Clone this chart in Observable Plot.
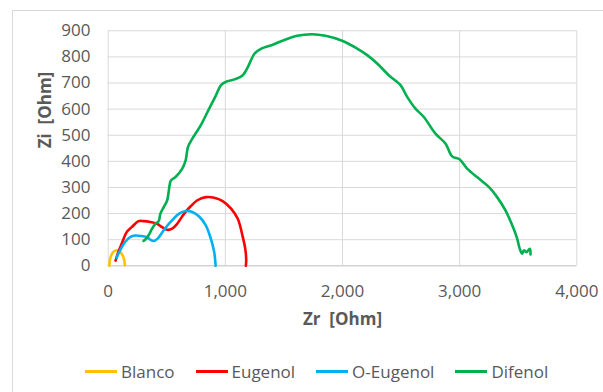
<!DOCTYPE html>
<html>
<head>
<meta charset="utf-8">
<script src="https://cdn.jsdelivr.net/npm/d3@7"></script>
<script src="https://cdn.jsdelivr.net/npm/@observablehq/plot@0.6"></script>
<style>
  html, body { margin: 0; padding: 0; background: #fff; }
  #chart { position: relative; width: 603px; height: 392px; overflow: hidden; background: #fff; font-family: "Open Sans", sans-serif; }
  #frame { position: absolute; left: 12px; top: 10px; width: 640px; height: 420px; border-top: 1px solid #d9d9d9; border-left: 1px solid #d9d9d9; }
  #plot { position: absolute; left: 0; top: 0; }
  #plot svg text { white-space: pre; }
  #legend { position: absolute; left: 85px; top: 360px; display: flex; align-items: center; gap: 21px; font-size: 17px; color: #595959; }
  .item { display: flex; align-items: center; gap: 4px; }
  .swatch { width: 32px; height: 3px; }
</style>
</head>
<body>
<div id="chart">
  <div id="frame"></div>
  <div id="plot"></div>
  <div id="legend"></div>
</div>
<script>
// Nyquist curves: real impedance Zr vs imaginary impedance Zi, in Ohm
const seriesNames = ["Blanco", "Eugenol", "O-Eugenol", "Difenol"];
const seriesColors = ["#FFC000", "#FF0000", "#00B0F0", "#00B050"];

const blancoZr = [10, 14, 24, 40, 60, 80, 100, 118, 132, 140, 142];
const blancoZi = [0, 20, 38, 51, 58, 59, 54, 44, 30, 14, 2];

const eugenolZr = [63, 86, 115, 158, 201, 259, 302, 359, 417, 460, 503, 546, 589, 647, 704, 761, 833, 905, 977, 1049, 1106, 1149, 1170, 1178, 1175];
const eugenolZi = [20, 52, 84, 129, 148, 171, 171, 168, 161, 148, 138, 142, 161, 199, 228, 251, 263, 261, 248, 219, 180, 110, 65, 20, 0];

const oEugenolZr = [72, 101, 144, 187, 230, 287, 330, 359, 388, 422, 474, 532, 603, 661, 718, 776, 833, 876, 905, 917];
const oEugenolZi = [31, 59, 91, 110, 116, 114, 110, 100, 95, 104, 136, 168, 199, 210, 206, 189, 155, 104, 52, 0];

const difenolZr = [302, 330, 353, 374, 402, 431, 445, 474, 503, 515, 525, 535, 575, 632, 661, 681, 718, 790, 862, 920, 963, 1006, 1078, 1149, 1193, 1250, 1307, 1394, 1499, 1613, 1741, 1855, 1997, 2125, 2211, 2296, 2395, 2495, 2552, 2623, 2694, 2794, 2879, 2936, 3001, 3064, 3164, 3249, 3320, 3391, 3449, 3491, 3513, 3534, 3548, 3570, 3599, 3605];
const difenolZi = [95, 107, 123, 142, 161, 171, 199, 225, 250, 280, 310, 327, 340, 372, 404, 455, 487, 538, 602, 653, 692, 705, 714, 730, 762, 813, 832, 845, 864, 881, 887, 881, 862, 832, 807, 775, 730, 692, 647, 602, 570, 506, 468, 419, 407, 372, 334, 302, 263, 212, 155, 104, 65, 46, 59, 52, 65, 43];

const xTicks = [0, 1000, 2000, 3000, 4000];
const yTicks = [0, 100, 200, 300, 400, 500, 600, 700, 800, 900];

const seriesData = [
  [blancoZr, blancoZi],
  [eugenolZr, eugenolZi],
  [oEugenolZr, oEugenolZi],
  [difenolZr, difenolZi]
];

const rows = seriesData.flatMap(([zr, zi], s) =>
  zr.map((x, i) => ({series: seriesNames[s], zr: x, zi: zi[i]}))
);

const textColor = "#595959";
const gridColor = "#d9d9d9";

const chart = Plot.plot({
  width: 603,
  height: 345,
  marginLeft: 107.7,
  marginRight: 26.7,
  marginTop: 30.3,
  marginBottom: 79.7,
  style: {fontFamily: "'Open Sans', sans-serif", fontSize: "17px", color: textColor, background: "transparent"},
  x: {domain: [0, 4000], ticks: xTicks},
  y: {domain: [0, 900], ticks: yTicks},
  color: {domain: seriesNames, range: seriesColors},
  marks: [
    Plot.gridX(xTicks, {stroke: gridColor, strokeOpacity: 1, strokeWidth: 1}),
    Plot.gridY(yTicks, {stroke: gridColor, strokeOpacity: 1, strokeWidth: 1}),
    Plot.ruleY([0], {stroke: "#cccccc", strokeWidth: 1}),
    Plot.axisX(xTicks, {tickSize: 0, tickPadding: 19, tickFormat: d3.format(","), fill: textColor, label: null}),
    Plot.axisY(yTicks, {tickSize: 0, tickPadding: 17.7, fill: textColor, label: null}),
    Plot.line(rows, {
      x: "zr", y: "zi", z: "series", stroke: "series",
      strokeWidth: 2.6, curve: "catmull-rom", strokeLinejoin: "round", strokeLinecap: "round"
    }),
    Plot.text(["Zr  [Ohm]"], {frameAnchor: "bottom", dy: 58.7, fontWeight: "bold", fontSize: 17, fill: textColor}),
    Plot.text(["Zi  [Ohm]"], {frameAnchor: "left", dx: -62.7, rotate: -90, fontWeight: "bold", fontSize: 17, fill: textColor})
  ]
});
document.getElementById("plot").appendChild(chart);

// Legend below the plot
const legend = document.getElementById("legend");
seriesNames.forEach((name, i) => {
  const item = document.createElement("div");
  item.className = "item";
  const sw = document.createElement("div");
  sw.className = "swatch";
  sw.style.background = seriesColors[i];
  const label = document.createElement("span");
  label.textContent = name;
  item.appendChild(sw);
  item.appendChild(label);
  legend.appendChild(item);
});
</script>
</body>
</html>
